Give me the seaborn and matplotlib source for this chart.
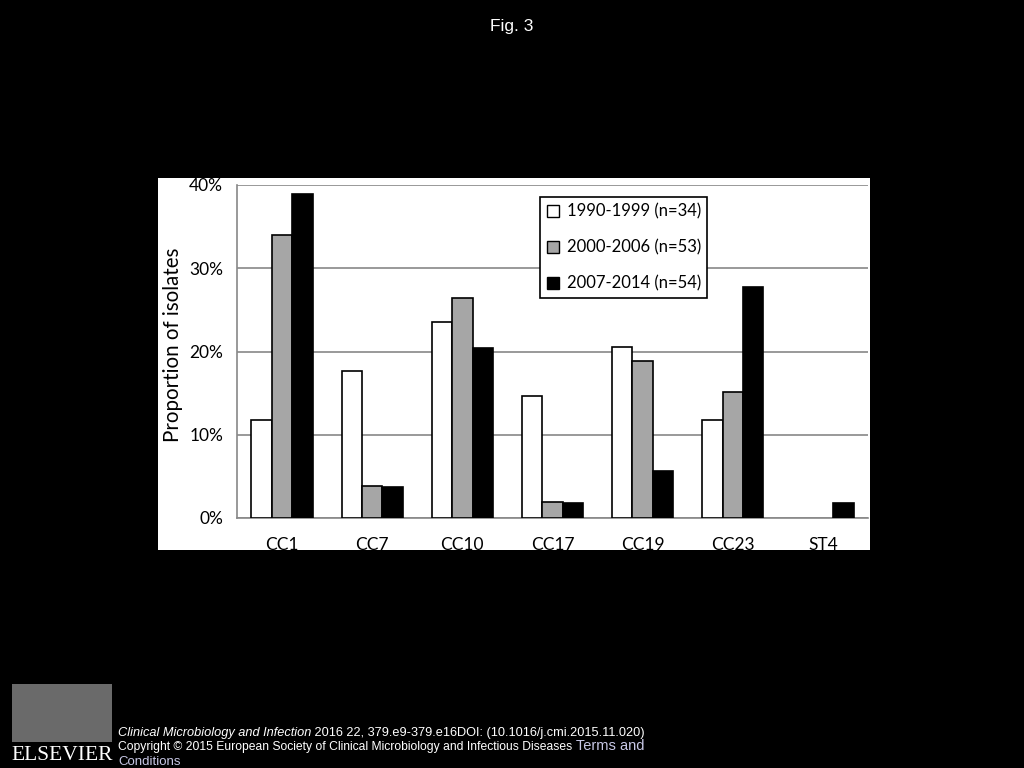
import numpy as np
import pandas as pd
import seaborn as sns
import matplotlib.pyplot as plt
from matplotlib.patches import Rectangle, Patch

groups = ['CC1', 'CC7', 'CC10', 'CC17', 'CC19', 'CC23', 'ST4']
periods = ['1990-1999 (n=34)', '2000-2006 (n=53)', '2007-2014 (n=54)']
p1990 = [11.8, 17.6, 23.5, 14.7, 20.6, 11.8, 0.0]
p2000 = [34.0, 3.8, 26.4, 1.9, 18.9, 15.1, 0.0]
p2007 = [38.9, 3.7, 20.4, 1.85, 5.6, 27.8, 1.85]
colors = ['white', '#a6a6a6', 'black']

df = pd.DataFrame({
    'group': groups * 3,
    'period': [periods[0]] * 7 + [periods[1]] * 7 + [periods[2]] * 7,
    'pct': p1990 + p2000 + p2007,
})

sns.set_style('white')
plt.rcParams['font.family'] = ['Lato', 'DejaVu Sans']
plt.rcParams['text.color'] = 'black'
plt.rcParams['axes.labelcolor'] = 'black'
plt.rcParams['xtick.color'] = 'black'
plt.rcParams['ytick.color'] = 'black'

fig = plt.figure(figsize=(10.24, 7.68), dpi=100, facecolor='black')
# white panel behind the chart
fig.patches.append(Rectangle((158 / 1024, 1 - 550 / 768), (870 - 158) / 1024, (550 - 178) / 768,
                             transform=fig.transFigure, facecolor='white', edgecolor='none', zorder=-5))
ax = fig.add_axes([237 / 1024, 1 - 518 / 768, (868 - 237) / 1024, (518 - 185) / 768])
ax.set_facecolor('white')

sns.barplot(data=df, x='group', y='pct', hue='period', hue_order=periods, palette=colors,
            edgecolor='black', linewidth=1.2, width=0.68, gap=0, ax=ax, legend=False, zorder=3)
for p in ax.patches:
    if p.get_height() == 0:
        p.set_linewidth(0)

ax.set_ylim(0, 40)
ax.set_xlim(-0.5, 6.5)
ax.set_yticks([0, 10, 20, 30, 40])
ax.set_yticklabels(['0%', '10%', '20%', '30%', '40%'])
ax.yaxis.grid(True, color='#888888', linewidth=1.2, zorder=0)
ax.set_axisbelow(True)
for s in ['top', 'right']:
    ax.spines[s].set_visible(False)
for s in ['left', 'bottom']:
    ax.spines[s].set_color('#888888')
    ax.spines[s].set_linewidth(1.2)
ax.tick_params(axis='y', which='major', direction='out', length=5, width=1.2, color='#888888',
               labelsize=12.5, pad=5)
ax.tick_params(axis='x', which='major', length=0, labelsize=12.5, pad=14)
ax.set_xticks(np.arange(-0.5, 7.0, 1.0), minor=True)
ax.tick_params(axis='x', which='minor', direction='out', length=5, width=1.2, color='#888888')
ax.set_xlabel('')
ax.set_ylabel('Proportion of isolates', fontsize=14.8)
ax.yaxis.set_label_coords(-0.086, 0.52)

handles = [Patch(facecolor=c, edgecolor='black', linewidth=1.0) for c in colors]
leg = ax.legend(handles, periods, loc='upper left', bbox_to_anchor=(0.48, 0.964), fontsize=12,
                frameon=True, fancybox=False, edgecolor='black', framealpha=1,
                handlelength=0.75, handleheight=0.75, handletextpad=0.45, labelspacing=1.19,
                borderpad=0.4, borderaxespad=0)
leg.get_frame().set_linewidth(1.2)

fig.text(0.5, 1 - 27 / 768, 'Fig. 3', color='white', ha='center', va='center',
         fontsize=12.5, family='Liberation Sans')

# footer
fig.patches.append(Rectangle((12 / 1024, 1 - 742 / 768), 100 / 1024, 58 / 768,
                             transform=fig.transFigure, facecolor='#6a6a6a', edgecolor='none'))
fig.text(62 / 1024, 1 - 756 / 768, 'ELSEVIER', color='white', ha='center', va='center',
         fontsize=15.5, family='Liberation Serif')
t1 = fig.text(118 / 1024, 1 - 736 / 768, 'Clinical Microbiology and Infection', color='white',
              fontsize=9.2, style='italic', family='Liberation Sans', va='baseline')
t2 = fig.text(118 / 1024, 1 - 750 / 768,
              'Copyright \u00a9 2015 European Society of Clinical Microbiology and Infectious Diseases',
              color='white', fontsize=8.7, family='Liberation Sans', va='baseline')
fig.text(118 / 1024, 1 - 765 / 768, 'Conditions', color='#c8c8e6', fontsize=9.5,
         family='Liberation Sans', va='baseline')

# place trailing pieces after the measured width of the leading texts
fig.canvas.draw()
r = fig.canvas.get_renderer()
fig.text(t1.get_window_extent(r).x1 / fig.bbox.width, 1 - 736 / 768,
         ' 2016 22, 379.e9-379.e16DOI: (10.1016/j.cmi.2015.11.020)',
         color='white', fontsize=9.2, family='Liberation Sans', va='baseline')
fig.text(t2.get_window_extent(r).x1 / fig.bbox.width, 1 - 750 / 768, ' Terms and',
         color='#c8c8e6', fontsize=10.5, family='Liberation Sans', va='baseline')

fig.savefig('out.png', dpi=100, facecolor='black')
